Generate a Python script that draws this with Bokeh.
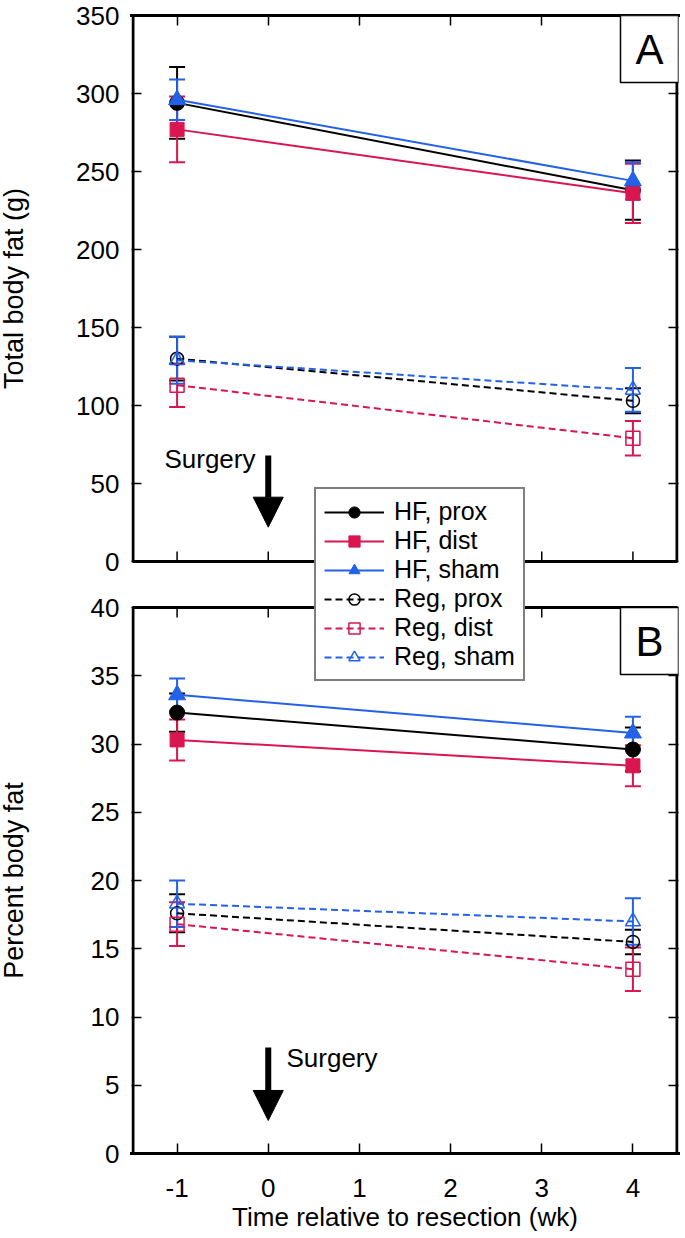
import math
from bokeh.plotting import figure
from bokeh.models import (Range1d, LinearAxis, FixedTicker, Whisker, TeeHead,
                          ColumnDataSource, Legend, LegendItem, Label, Arrow, NormalHead,
                          BoxAnnotation, CustomJSTickFormatter)
from bokeh.layouts import row
from bokeh.core.properties import value
from bokeh.embed import file_html
from bokeh.resources import INLINE

# ---------------- data ----------------
weeks = [-1, 4]
series_names = ["HF, prox", "HF, dist", "HF, sham", "Reg, prox", "Reg, dist", "Reg, sham"]

# Panel A: total body fat (g)
fat_g_hf_prox = [294, 238]
fat_g_hf_prox_err = [23, 19]
fat_g_hf_dist = [277, 236]
fat_g_hf_dist_err = [21, 19]
fat_g_hf_sham = [296, 244]
fat_g_hf_sham_err = [13, 12]
fat_g_reg_prox = [130, 103]
fat_g_reg_prox_err = [14, 8]
fat_g_reg_dist = [113, 79]
fat_g_reg_dist_err = [14, 11]
fat_g_reg_sham = [129, 110]
fat_g_reg_sham_err = [15, 14]

# Panel B: percent body fat
pct_hf_prox = [32.3, 29.6]
pct_hf_prox_err = [1.4, 1.6]
pct_hf_dist = [30.3, 28.4]
pct_hf_dist_err = [1.5, 1.5]
pct_hf_sham = [33.6, 30.8]
pct_hf_sham_err = [1.2, 1.2]
pct_reg_prox = [17.6, 15.5]
pct_reg_prox_err = [1.4, 0.9]
pct_reg_dist = [16.8, 13.5]
pct_reg_dist_err = [1.6, 1.6]
pct_reg_sham = [18.3, 17.0]
pct_reg_sham_err = [1.7, 1.7]

x_ticks = [-1, 0, 1, 2, 3, 4]
A_ticks = [0, 50, 100, 150, 200, 250, 300, 350]
B_ticks = [0, 5, 10, 15, 20, 25, 30, 35, 40]
X_MIN, X_MAX = -1.5, 4.5
A_MAX, B_MAX = 350, 40
surgery_week = 0

# ---------------- layout constants ----------------
PANEL_PX = 546
GAP_PX = 46
FRAME_H = 2 * PANEL_PX + GAP_PX
LABEL_W = 30
MAIN_W = 653
BORDER_L, BORDER_R = 101, 5
FRAME_W = MAIN_W - BORDER_L - BORDER_R
TOP_B, BOT_B = 15, 83
HEIGHT = TOP_B + FRAME_H + BOT_B
a_lo = A_MAX - A_MAX * FRAME_H / PANEL_PX     # primary range (panel A units)
b_hi = B_MAX * FRAME_H / PANEL_PX              # extra range (panel B units)
b_pos = [a_lo + (v / b_hi) * (A_MAX - a_lo) for v in B_ticks]
TICK_PX = 10
EDGE_W = 3
inset_x = (EDGE_W / 2) * (X_MAX - X_MIN) / FRAME_W

FONT = "Liberation Sans"
BLACK = "#000000"
RED = "#D91650"
BLUE = "#2461E9"
DASH = "7 4"
styles = [
    (BLACK, "circle", True, "solid"),
    (RED, "square", True, "solid"),
    (BLUE, "triangle", True, "solid"),
    (BLACK, "circle", False, DASH),
    (RED, "square", False, DASH),
    (BLUE, "triangle", False, DASH),
]
filled_size = {"circle": 15, "square": 14, "triangle": 17}
open_size = {"circle": 13, "square": 14, "triangle": 15}

blank_fmt = CustomJSTickFormatter(code="return '';")


def style_axis(ax, show_labels, line):
    ax.axis_line_width = EDGE_W
    ax.axis_line_color = "black" if line else None
    ax.axis_line_cap = "square"
    ax.major_tick_in = TICK_PX
    ax.major_tick_out = 0
    ax.major_tick_line_width = 1.5
    ax.major_tick_line_color = "black"
    ax.minor_tick_line_color = None
    ax.major_label_text_font = FONT
    ax.major_label_text_font_size = "26px"
    ax.major_label_text_color = "black"
    ax.axis_label_text_font = FONT
    ax.axis_label_text_font_size = "26px"
    ax.axis_label_text_font_style = "normal"
    ax.axis_label_text_color = "black"
    if not show_labels:
        ax.formatter = blank_fmt
        ax.major_label_text_font_size = "0px"
        ax.major_label_standoff = 0


# ---------------- main figure ----------------
p = figure(width=MAIN_W, height=HEIGHT,
           x_range=Range1d(X_MIN, X_MAX), y_range=Range1d(a_lo, A_MAX),
           output_backend="svg", toolbar_location=None,
           x_axis_location=None, y_axis_location=None,
           min_border_left=BORDER_L, min_border_right=BORDER_R,
           min_border_top=TOP_B, min_border_bottom=BOT_B)
p.extra_y_ranges = {"B": Range1d(0, b_hi)}
p.grid.grid_line_color = None
p.outline_line_color = None
p.background_fill_color = "white"
p.border_fill_color = "white"

fmt = CustomJSTickFormatter(args=dict(a_lo=a_lo, a_hi=A_MAX, b_hi=b_hi), code="""
    if (tick >= -0.001) { return tick.toFixed(0); }
    const v = (tick - a_lo) / (a_hi - a_lo) * b_hi;
    return Math.round(v).toString();
""")
x_fmt = CustomJSTickFormatter(code="return Math.round(tick).toString();")
y_ticker = FixedTicker(ticks=A_ticks + b_pos)
left_ax = LinearAxis(ticker=y_ticker, formatter=fmt)
right_ax = LinearAxis(ticker=y_ticker)
bottom_ax = LinearAxis(ticker=FixedTicker(ticks=x_ticks), formatter=x_fmt,
                       axis_label="Time relative to resection (wk)")
top_ax = LinearAxis(ticker=FixedTicker(ticks=x_ticks))
style_axis(left_ax, True, False)
style_axis(right_ax, False, False)
style_axis(bottom_ax, True, True)
style_axis(top_ax, False, True)
left_ax.major_label_standoff = 12
bottom_ax.major_label_standoff = 25
bottom_ax.axis_label_standoff = 2
p.add_layout(left_ax, "left")
p.add_layout(right_ax, "right")
p.add_layout(bottom_ax, "below")
p.add_layout(top_ax, "above")

# panel frames
p.add_layout(BoxAnnotation(left=X_MIN + inset_x, right=X_MAX - inset_x, bottom=0, top=A_MAX,
                           fill_color=None, line_color="black", line_alpha=1, line_width=EDGE_W))
p.add_layout(BoxAnnotation(left=X_MIN + inset_x, right=X_MAX - inset_x, bottom=0, top=B_MAX,
                           y_range_name="B", fill_color=None, line_color="black", line_alpha=1,
                           line_width=EDGE_W))
# inner ticks on panel A's bottom edge and panel B's top edge
tick_a = TICK_PX * A_MAX / PANEL_PX
tick_b = TICK_PX * B_MAX / PANEL_PX
p.segment(x0=x_ticks, y0=[0] * len(x_ticks), x1=x_ticks, y1=[tick_a] * len(x_ticks),
          line_color="black", line_width=1.5)
p.segment(x0=x_ticks, y0=[B_MAX] * len(x_ticks), x1=x_ticks, y1=[B_MAX - tick_b] * len(x_ticks),
          line_color="black", line_width=1.5, y_range_name="B")


def draw_series(vals, errs, style, rng):
    color, marker, filled, dash = style
    lo = [v - e for v, e in zip(vals, errs)]
    hi = [v + e for v, e in zip(vals, errs)]
    src = ColumnDataSource(dict(x=weeks, y=vals, lo=lo, hi=hi))
    w = Whisker(source=src, base="x", lower="lo", upper="hi", dimension="height",
                line_color=color, line_width=2, y_range_name=rng,
                upper_head=TeeHead(size=16, line_color=color, line_width=2),
                lower_head=TeeHead(size=16, line_color=color, line_width=2))
    p.add_layout(w)
    ln = p.line("x", "y", source=src, line_color=color, line_width=2, line_dash=dash,
                y_range_name=rng)
    if filled:
        sc = p.scatter("x", "y", source=src, marker=marker, size=filled_size[marker],
                       fill_color=color, line_color=color, line_width=1, y_range_name=rng)
    else:
        sc = p.scatter("x", "y", source=src, marker=marker, size=open_size[marker],
                       fill_color=None, line_color=color, line_width=1.5, y_range_name=rng)
    return ln, sc


A_vals = [(fat_g_hf_prox, fat_g_hf_prox_err), (fat_g_hf_dist, fat_g_hf_dist_err),
          (fat_g_hf_sham, fat_g_hf_sham_err), (fat_g_reg_prox, fat_g_reg_prox_err),
          (fat_g_reg_dist, fat_g_reg_dist_err), (fat_g_reg_sham, fat_g_reg_sham_err)]
B_vals = [(pct_hf_prox, pct_hf_prox_err), (pct_hf_dist, pct_hf_dist_err),
          (pct_hf_sham, pct_hf_sham_err), (pct_reg_prox, pct_reg_prox_err),
          (pct_reg_dist, pct_reg_dist_err), (pct_reg_sham, pct_reg_sham_err)]
for (v, e), st in zip(A_vals, styles):
    draw_series(v, e, st, "default")
items = []
for (v, e), st, name in zip(B_vals, styles, series_names):
    ln, sc = draw_series(v, e, st, "B")
    items.append(LegendItem(label=name, renderers=[ln, sc]))

# surgery markers
p.add_layout(Arrow(end=NormalHead(size=30, fill_color="black", line_color="black"),
                   x_start=surgery_week, y_start=68, x_end=surgery_week, y_end=22,
                   line_width=6, line_color="black"))
p.add_layout(Label(x=surgery_week - 0.14, y=66, text="Surgery", text_align="right",
                   text_baseline="middle", text_font=FONT, text_font_size="26px",
                   text_color="black"))
p.add_layout(Arrow(end=NormalHead(size=30, fill_color="black", line_color="black"),
                   x_start=surgery_week, y_start=7.77, x_end=surgery_week, y_end=2.42,
                   line_width=6, line_color="black", y_range_name="B"))
p.add_layout(Label(x=surgery_week + 0.2, y=6.96, text="Surgery", text_align="left",
                   text_baseline="middle", text_font=FONT, text_font_size="26px",
                   text_color="black", y_range_name="B"))

# panel tags
for letter, yv, rng in [("A", A_MAX, "default"), ("B", B_MAX, "B")]:
    p.add_layout(Label(x=X_MAX, y=yv, text=letter, text_align="right", text_baseline="top",
                       text_font=FONT, text_font_size="42px", text_color="black",
                       border_line_color="black", border_line_width=1.5,
                       background_fill_color="white", padding=(15, 10), y_range_name=rng))

legend = Legend(items=items, location=(183, 472))
legend.label_text_font = FONT
legend.label_text_font_size = "25px"
legend.label_text_line_height = 1.0
legend.label_text_color = "black"
legend.glyph_width = 60
legend.glyph_height = 28
legend.label_standoff = 10
legend.padding = 8
legend.spacing = 0
legend.margin = 0
legend.border_line_color = "black"
legend.border_line_width = 2
legend.background_fill_color = "white"
legend.background_fill_alpha = 1
p.add_layout(legend)

# ---------------- y-axis titles ----------------
lf = figure(width=LABEL_W, height=HEIGHT, x_range=Range1d(0, 1), y_range=Range1d(a_lo, A_MAX),
            output_backend="svg", toolbar_location=None,
            x_axis_location=None, y_axis_location=None,
            min_border_left=0, min_border_right=0, min_border_top=TOP_B, min_border_bottom=BOT_B)
lf.extra_y_ranges = {"B": Range1d(0, b_hi)}
lf.grid.grid_line_color = None
lf.outline_line_color = None
lf.text(x=[0.45], y=[A_MAX / 2], text=["Total body fat (g)"], angle=math.pi / 2,
        text_align="center", text_baseline="middle", text_font=value(FONT),
        text_font_size="27px", text_color="black")
lf.text(x=[0.45], y=[B_MAX / 2], text=["Percent body fat"], angle=math.pi / 2,
        text_align="center", text_baseline="middle", text_font=value(FONT),
        text_font_size="27px", text_color="black", y_range_name="B")

layout = row(lf, p, spacing=0)
open("out.html", "w").write(file_html(layout, INLINE))
